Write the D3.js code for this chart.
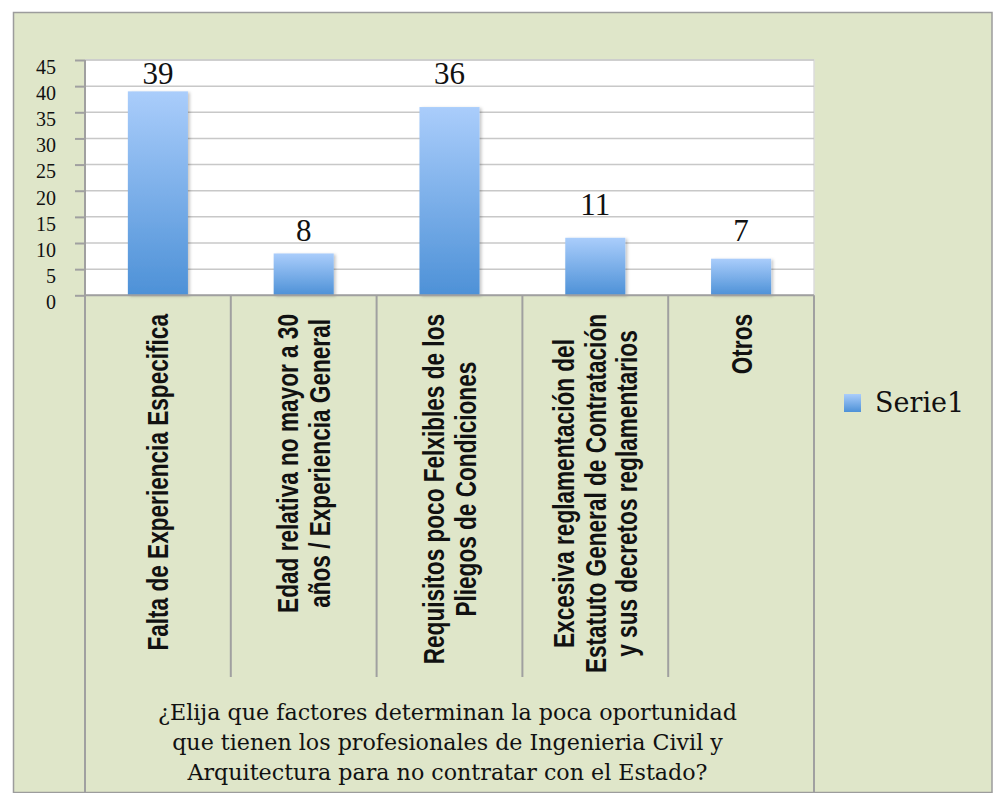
<!DOCTYPE html>
<html><head><meta charset="utf-8">
<script src="https://cdn.jsdelivr.net/npm/d3@7"></script>
<style>body{margin:0;background:#fff}</style>
</head><body><svg id="c" width="993" height="793"></svg>
<script>
const categories = [
  "Falta de Experiencia Especifica",
  "Edad relativa no mayor a 30\naños / Experiencia General",
  "Requisitos poco Felxibles de los\nPliegos de Condiciones",
  "Excesiva reglamentación del\nEstatuto General de Contratación\ny sus decretos reglamentarios",
  "Otros"
];
const values = [39, 8, 36, 11, 7];
const yTicks = [0, 5, 10, 15, 20, 25, 30, 35, 40, 45];
const seriesName = "Serie1";
const axisTitle = [
  "¿Elija que factores determinan la poca oportunidad",
  "que tienen los profesionales de Ingenieria Civil y",
  "Arquitectura para no contratar con el Estado?"
];

const svg = d3.select("#c");
const L = 85, R = 814, T = 60, B = 295.3;
const divEnd = 677, frameB = 792;

const defs = svg.append("defs");
const grad = defs.append("linearGradient").attr("id", "barGrad")
  .attr("x1", 0).attr("y1", 0).attr("x2", 0).attr("y2", 1);
grad.append("stop").attr("offset", "0%").attr("stop-color", "#aacdfb");
grad.append("stop").attr("offset", "100%").attr("stop-color", "#4d91d7");
const f = defs.append("filter").attr("id", "sh").attr("x", "-20%").attr("y", "-20%").attr("width", "150%").attr("height", "150%");
f.append("feDropShadow").attr("dx", 2).attr("dy", 1).attr("stdDeviation", 1.5)
  .attr("flood-color", "#000").attr("flood-opacity", 0.22);

// chart frame
svg.append("rect").attr("x", 13.5).attr("y", 12.5).attr("width", 978.5).attr("height", 780)
  .attr("fill", "#dfe6c9").attr("stroke", "#9c9c9c").attr("stroke-width", 1.5);

const x = d3.scaleBand().domain(categories).range([L, R]).paddingInner(0).paddingOuter(0);
const y = d3.scaleLinear().domain([0, 45]).range([B, T]);

// plot area
svg.append("rect").attr("x", L).attr("y", T).attr("width", R - L).attr("height", B - T)
  .attr("fill", "#fff").attr("stroke", "#dcdcdc").attr("stroke-width", 1.5);

// gridlines
svg.append("g").selectAll("line").data(yTicks.filter(d => d > 0)).join("line")
  .attr("x1", L).attr("x2", R).attr("y1", d => y(d)).attr("y2", d => y(d))
  .attr("stroke", "#c8c8c8").attr("stroke-width", 1.5);

// y axis
const yAxis = svg.append("g").attr("transform", `translate(${L},0)`)
  .call(d3.axisLeft(y).tickValues(yTicks).tickSize(10).tickPadding(19))
  .attr("font-family", "'Liberation Serif', serif").attr("font-size", 20);
yAxis.select(".domain").remove();
yAxis.selectAll(".tick line").attr("stroke", "#a0a0a0").attr("stroke-width", 2);
yAxis.selectAll(".tick text").attr("dy", "0.67em")
  .style("font-family", "'Liberation Serif', serif").style("font-size", "20px").attr("fill", "#111");

// bars
const bw = x.bandwidth() * 0.412;
svg.append("g").selectAll("rect").data(values).join("rect")
  .attr("x", (d, i) => x(categories[i]) + (x.bandwidth() - bw) / 2)
  .attr("y", d => y(d)).attr("width", bw).attr("height", d => y(0) - y(d))
  .attr("fill", "url(#barGrad)").attr("filter", "url(#sh)");

// data labels
svg.append("g").selectAll("text").data(values).join("text")
  .attr("x", (d, i) => x(categories[i]) + x.bandwidth() / 2)
  .attr("y", d => y(Math.ceil((d + 1) / 5) * 5) - 2)
  .attr("text-anchor", "middle")
  .style("font-family", "'Liberation Serif', serif").style("font-size", "31px").attr("fill", "#111")
  .text(d => d);

// axis lines
svg.append("line").attr("x1", L).attr("x2", R).attr("y1", B).attr("y2", B)
  .attr("stroke", "#a0a0a0").attr("stroke-width", 2);
svg.append("line").attr("x1", L).attr("x2", L).attr("y1", T).attr("y2", frameB)
  .attr("stroke", "#a0a0a0").attr("stroke-width", 2);
svg.append("line").attr("x1", R).attr("x2", R).attr("y1", B).attr("y2", frameB)
  .attr("stroke", "#a0a0a0").attr("stroke-width", 2);
svg.append("g").selectAll("line").data(categories.slice(1)).join("line")
  .attr("x1", d => x(d)).attr("x2", d => x(d)).attr("y1", B).attr("y2", divEnd)
  .attr("stroke", "#a0a0a0").attr("stroke-width", 2);

// category labels (rotated)
const fs = 22.6, sc = 1.3, pitch = 31.5, capH = 21;
const labTop = 314;
categories.forEach((c) => {
  const lines = c.split("\n");
  const n = lines.length;
  const g = svg.append("g");
  const t = g.append("text")
    .style("font-family", "'Liberation Sans', Arial, sans-serif").style("font-weight", "bold")
    .style("font-size", fs + "px").attr("fill", "#111").attr("text-anchor", "middle");
  lines.forEach((ln, i) => {
    t.append("tspan").attr("x", 0).attr("y", ((i - (n - 1) / 2) * pitch + capH / 2) / sc).text(ln);
  });
  let maxW = 0;
  t.selectAll("tspan").each(function () { maxW = Math.max(maxW, this.getComputedTextLength()); });
  const cx = x(c) + x.bandwidth() / 2;
  g.attr("transform", `translate(${cx},${labTop + maxW / 2}) rotate(-90) scale(1,${sc})`);
});

// axis title
svg.append("g").selectAll("text").data(axisTitle).join("text")
  .attr("x", (L + R) / 2 - 2).attr("y", (d, i) => 720 + i * 30)
  .attr("text-anchor", "middle")
  .style("font-family", "'DejaVu Serif', serif").style("font-size", "22.2px").attr("fill", "#111")
  .text(d => d);

// legend
const lg = svg.append("g").attr("transform", "translate(844,394)");
lg.append("rect").attr("width", 17).attr("height", 18).attr("fill", "url(#barGrad)");
lg.append("text").attr("x", 31).attr("y", 17.5)
  .style("font-family", "'DejaVu Serif', serif").style("font-size", "27px").attr("fill", "#111")
  .text(seriesName);
</script></body></html>
